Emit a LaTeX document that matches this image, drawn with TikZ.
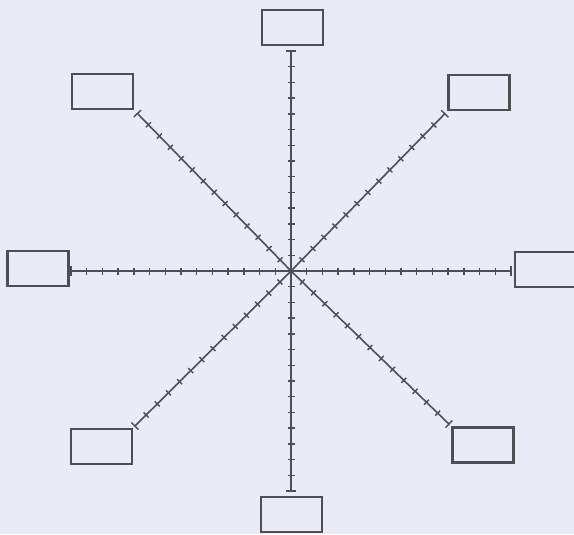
\documentclass[tikz,border=0pt]{standalone}
\usepackage{xcolor}
\usetikzlibrary{calc}
\definecolor{paperbg}{RGB}{233,235,246}
\definecolor{inkgray}{RGB}{78,78,84}

\begin{document}
\begin{tikzpicture}[
  x=0.02cm, y=-0.02cm,
  box/.style={rectangle, draw=inkgray, line width=1.2pt, minimum width=1.22cm,
    minimum height=0.7cm, inner sep=0pt},
  axisline/.style={draw=inkgray, line width=0.9pt},
  tickmark/.style={draw=inkgray, line width=0.8pt}
]
  \fill[paperbg] (0,0) rectangle (574,534);
  \useasboundingbox (0,0) rectangle (574,534);

  \coordinate (c) at (291,271);

  \node[box] (boxN)  at (292.5,27.5) {};
  \node[box] (boxS)  at (291.5,514.5) {};
  \node[box] (boxW)  at (38,268.5) {};
  \node[box] (boxE)  at (545.5,269.5) {};
  \node[box] (boxNW) at (102.5,91.5) {};
  \node[box] (boxNE) at (479,92.5) {};
  \node[box] (boxSW) at (101.5,446.5) {};
  \node[box] (boxSE) at (483,445) {};

  % eight scales from the centre, 14 divisions each
  \foreach \b/\t in {boxN/c |- boxN.south, boxS/c |- boxS.north,
                     boxW/c -| boxW.east, boxE/c -| boxE.west,
                     boxNW/boxNW.south east, boxNE/boxNE.south west,
                     boxSW/boxSW.north east, boxSE/boxSE.north west} {
    \coordinate (e-\b) at ($(c)!4.4cm!(\t)$);
    \draw[axisline] (c) -- (e-\b);
    \foreach \i in {1,...,13}
      \draw[tickmark] ($(c)!\i/14!(e-\b)!0.07cm!90:(e-\b)$) -- ($(c)!\i/14!(e-\b)!0.07cm!-90:(e-\b)$);
    \draw[tickmark] ($(e-\b)!0.1cm!90:(c)$) -- ($(e-\b)!0.1cm!-90:(c)$);
  }
\end{tikzpicture}
\end{document}
